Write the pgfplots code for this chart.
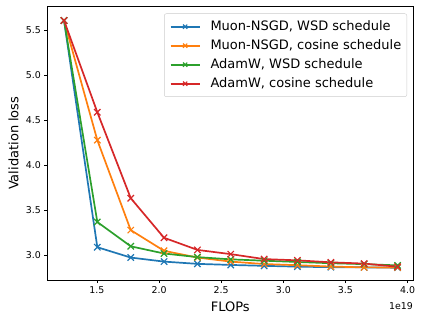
\documentclass[border=0pt]{standalone}
\usepackage{fontspec}
\setmainfont{DejaVu Sans}
\usepackage{pgfplots}
\pgfplotsset{compat=1.18}
\usetikzlibrary{calc}
\definecolor{tabblue}{RGB}{31,119,180}
\definecolor{taborange}{RGB}{255,127,14}
\definecolor{tabgreen}{RGB}{44,160,44}
\definecolor{tabred}{RGB}{214,39,40}
\definecolor{legedge}{RGB}{204,204,204}

\begin{document}
\begin{tikzpicture}
  \begin{axis}[
    scale only axis,
    width=365.5pt, height=273.5pt,
    xmin=1.102, xmax=4.044, ymin=2.7256, ymax=5.765,
    xtick={1.5,2.0,2.5,3.0,3.5,4.0},
    ytick={3.0,3.5,4.0,4.5,5.0,5.5},
    xticklabel style={/pgf/number format/.cd,fixed,fixed zerofill,precision=1},
    yticklabel style={/pgf/number format/.cd,fixed,fixed zerofill,precision=1},
    /pgf/number format/assume math mode=true,
    ticklabel style={font=\fontsize{9.4}{11}\selectfont},
    xtick pos=bottom, ytick pos=left,
    tick align=outside,
    major tick length=3.2pt,
    every tick/.style={black, line width=0.75pt},
    axis line style={black, line width=0.75pt},
    clip=false,
    xlabel={FLOPs},
    ylabel={Validation loss},
    label style={font=\fontsize{13}{15}\selectfont},
    xlabel style={at={(axis description cs:0.5,0)}, anchor=north, yshift=-21.5pt, inner sep=0pt},
    ylabel style={at={(axis description cs:0,0.5)}, anchor=center, rotate=0, yshift=34pt, inner sep=0pt},
    legend cell align=left,
    legend style={
      at={(rel axis cs:1,1)}, anchor=north east, xshift=-6pt, yshift=-7pt,
      draw=legedge, rounded corners=2pt, fill=white, fill opacity=0.8, text opacity=1,
      font=\fontsize{13}{15}\selectfont,
      inner xsep=5.5pt, inner ysep=7pt,
      row sep=7pt,
      nodes={inner sep=0pt, text height=9.5pt, text depth=2.5pt},
      /tikz/every odd column/.append style={column sep=10pt},
    },
    legend image code/.code={
      \draw[mark repeat=2, mark phase=2, #1, mark size=3pt] plot coordinates {(0pt,0pt) (14.5pt,0pt) (29pt,0pt)};
    },
    every axis plot/.append style={line width=1.7pt, mark=x, mark size=4.5pt, mark options={solid, line width=1.2pt}},
  ]
    \addplot[tabblue] coordinates {
      (1.235,5.61) (1.503,3.09) (1.772,2.975) (2.040,2.930) (2.309,2.905) (2.577,2.893)
      (2.846,2.883) (3.114,2.874) (3.383,2.868) (3.651,2.866) (3.920,2.862)
    };
    \addlegendentry{Muon-NSGD, WSD schedule}
    \addplot[taborange] coordinates {
      (1.235,5.61) (1.503,4.28) (1.772,3.280) (2.040,3.050) (2.309,2.975) (2.577,2.930)
      (2.846,2.903) (3.114,2.890) (3.383,2.875) (3.651,2.866) (3.920,2.865)
    };
    \addlegendentry{Muon-NSGD, cosine schedule}
    \addplot[tabgreen] coordinates {
      (1.235,5.61) (1.503,3.37) (1.772,3.100) (2.040,3.020) (2.309,2.980) (2.577,2.955)
      (2.846,2.940) (3.114,2.926) (3.383,2.912) (3.651,2.902) (3.920,2.888)
    };
    \addlegendentry{AdamW, WSD schedule}
    \addplot[tabred] coordinates {
      (1.235,5.61) (1.503,4.59) (1.772,3.635) (2.040,3.195) (2.309,3.060) (2.577,3.013)
      (2.846,2.958) (3.114,2.944) (3.383,2.922) (3.651,2.908) (3.920,2.873)
    };
    \addlegendentry{AdamW, cosine schedule}
    \node[anchor=north east, inner sep=0pt, font=\fontsize{9.4}{11}\selectfont]
      at ($(rel axis cs:1,0)+(0pt,-22pt)$) {1e19};
    \coordinate (sw) at (rel axis cs:0,0);
    \coordinate (ne) at (rel axis cs:1,1);
  \end{axis}
  \path ($(sw)+(-47.5pt,-42pt)$) rectangle ($(ne)+(11pt,6.5pt)$);
\end{tikzpicture}
\end{document}
